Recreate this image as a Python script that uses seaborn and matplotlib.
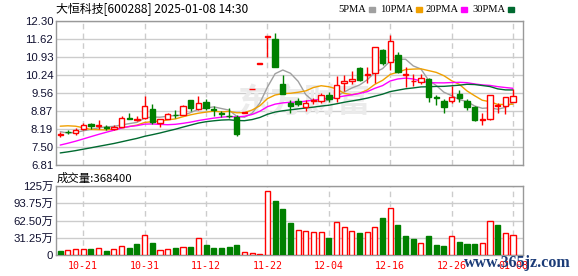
import numpy as np
import pandas as pd
import matplotlib
matplotlib.use("Agg")
import matplotlib.pyplot as plt
import seaborn as sns

# ---------------- data ----------------
title = "大恒科技[600288] 2025-01-08 14:30"
last_volume = 368400

# closes before the visible window (estimated from where the MA lines start)
prior_closes = [6.80, 6.75, 6.70, 6.70, 6.65, 6.60, 6.60, 6.65, 6.60, 6.65,
                6.65, 6.60, 6.60, 6.55, 6.60, 6.60, 6.70, 6.90, 7.40, 7.90,
                7.90, 8.30, 8.90, 9.00, 8.40,
                8.30, 8.05, 8.00, 8.05]

opens = [7.97, 8.07, 8.04, 8.17, 8.36, 8.30, 8.24, 8.17, 8.27, 8.60,
         8.53, 8.62, 8.93, 8.40, 8.58, 8.72, 8.72, 9.29, 8.93, 9.22,
         8.95, 8.77, 8.68, 8.64, 8.81, 9.69, 10.66, 11.68, 11.61, 9.90,
         9.18, 9.26, 9.01, 9.24, 9.26, 9.47, 9.36, 9.92, 10.03, 10.52,
         10.26, 10.31, 11.20, 10.75, 11.00, 10.26, 10.00, 9.98, 10.08, 9.42,
         9.25, 9.26, 9.52, 9.25, 9.03, 8.54, 8.55, 9.05, 9.06, 9.22]
highs = [8.08, 8.14, 8.23, 8.40, 8.42, 8.53, 8.33, 8.33, 8.66, 8.80,
         8.68, 9.45, 9.14, 8.58, 8.80, 8.92, 9.10, 9.30, 9.44, 9.31,
         9.06, 8.85, 8.97, 8.70, 8.81, 9.69, 10.66, 11.73, 11.85, 10.24,
         9.30, 9.38, 9.29, 9.38, 9.54, 9.60, 10.20, 10.24, 10.41, 10.55,
         10.55, 11.32, 11.25, 11.77, 11.12, 10.56, 10.27, 10.28, 10.12, 9.46,
         9.31, 9.82, 9.67, 9.31, 9.06, 8.80, 9.49, 9.16, 9.42, 9.69]
lows = [7.87, 7.99, 7.95, 8.14, 8.17, 8.17, 8.14, 8.14, 8.24, 8.55,
        8.47, 8.58, 8.38, 8.25, 8.57, 8.60, 8.70, 8.88, 8.90, 8.91,
        8.67, 8.63, 8.62, 7.93, 8.81, 9.69, 10.66, 10.94, 10.55, 9.50,
        8.78, 9.06, 8.88, 9.14, 9.16, 9.22, 9.22, 9.62, 9.90, 10.02,
        9.93, 9.95, 10.64, 10.45, 10.33, 9.80, 9.82, 9.90, 9.20, 9.10,
        8.80, 9.19, 9.22, 8.90, 8.48, 8.34, 8.53, 8.78, 8.75, 9.20]
closes = [8.00, 8.05, 8.14, 8.33, 8.31, 8.32, 8.22, 8.24, 8.59, 8.57,
          8.55, 9.05, 8.44, 8.55, 8.76, 8.70, 9.06, 8.97, 9.19, 8.99,
          8.92, 8.75, 8.66, 8.01, 8.81, 9.69, 10.66, 11.73, 10.56, 9.52,
          9.06, 9.13, 9.19, 9.30, 9.48, 9.31, 9.86, 10.01, 10.07, 10.05,
          10.29, 11.30, 10.71, 11.54, 10.37, 10.29, 10.03, 10.12, 9.39, 9.37,
          9.01, 9.39, 9.35, 9.03, 8.52, 8.57, 9.48, 9.08, 9.39, 9.44]
# volume in 万 (10k shares)
volumes = [7.2, 8.5, 10.3, 10.3, 10.9, 12.0, 7.2, 10.3, 15.7, 12.7,
           20.0, 35.6, 21.7, 9.0, 10.3, 12.7, 13.9, 14.5, 30.2, 18.1,
           12.7, 12.7, 14.5, 18.1, 5.4, 3.6, 1.8, 115.3, 97.8, 83.3,
           58.6, 44.7, 42.9, 41.7, 41.7, 30.8, 59.2, 50.1, 42.9, 39.9,
           41.7, 50.1, 67.0, 84.5, 54.3, 34.4, 29.0, 21.7, 34.4, 18.1,
           16.3, 33.8, 23.6, 20.0, 20.0, 21.7, 61.0, 54.3, 39.9, 36.84]

dates = [d.strftime("%m-%d") for d in pd.bdate_range("2024-10-16", "2025-01-08")
         if d.strftime("%Y-%m-%d") != "2025-01-01"]
tick_labels = ["10-21", "10-31", "11-12", "11-22", "12-04", "12-16", "12-26", "01-08"]
price_ticks = [6.81, 7.50, 8.19, 8.87, 9.56, 10.24, 10.93, 11.62, 12.30]
vol_ticks = [0, 31.25, 62.50, 93.75, 125]
vol_tick_labels = ["0", "31.25万", "62.50万", "93.75万", "125万"]
ma_periods = [5, 10, 20, 30]
ma_names = ["5PMA", "10PMA", "20PMA", "30PMA"]
ma_colors = ["#a0a0a0", "#f0a000", "#ff00ff", "#006a30"]

UP = "#ff0000"
DOWN = "#008000"

# ---------------- figure ----------------
sns.set_theme(style="white")
plt.rcParams["font.family"] = ["Noto Sans CJK SC", "DejaVu Sans"]

W, H = 578, 276
fig = plt.figure(figsize=(W / 100, H / 100), dpi=100)
fig.patch.set_facecolor("white")


def rect(l, t, r, b):
    return [l / W, 1 - b / H, (r - l) / W, (b - t) / H]


axp = fig.add_axes(rect(56, 21, 523, 165))
axv = fig.add_axes(rect(56, 186, 523, 255))

n = len(closes)
x = np.arange(n)
o = np.array(opens)
c = np.array(closes)
hi = np.array(highs)
lo = np.array(lows)
up = c >= o
prev_close = np.array([prior_closes[-1]] + closes[:-1])
vol_up = c >= prev_close

tick_pos = [dates.index(t) for t in tick_labels]
xlim = (-0.55, n + 0.3)

for ax in (axp, axv):
    ax.set_facecolor("white")
    for s in ax.spines.values():
        s.set_color("#999999")
        s.set_linewidth(1)
    ax.set_xlim(*xlim)
    for tp in tick_pos:
        ax.axvline(tp, color="#cccccc", lw=1, ls=(0, (4, 3)), zorder=0)
    ax.tick_params(length=0, pad=2)

# price grid
for t in price_ticks:
    axp.axhline(t, color="#cccccc", lw=1, zorder=0)
axp.set_ylim(price_ticks[0], price_ticks[-1])
axp.set_yticks(price_ticks)
axp.set_yticklabels([f"{t:.2f}" for t in price_ticks], fontsize=8.2,
                    color="#101030", family=["Liberation Sans"])
axp.set_xticks([])

# watermark logo text
axp.text(0.53, 0.43, "东方财富", transform=axp.transAxes, fontsize=24,
         color="#ebebeb", ha="center", va="center", style="italic",
         fontweight="bold", zorder=0)

# moving averages
all_close = pd.Series(prior_closes + closes)
k = len(prior_closes)
for p, col in zip(ma_periods, ma_colors):
    ma = all_close.rolling(p).mean().iloc[k:].to_numpy()
    sns.lineplot(x=x, y=ma, ax=axp, color=col, lw=1, legend=False, zorder=2)

# candles
axp.vlines(x, lo, hi, colors=np.where(up, UP, DOWN), lw=1, zorder=3)
body_h = np.maximum(np.abs(c - o), 0.025)
body_b = np.minimum(o, c)
axp.bar(x, body_h, bottom=body_b, width=0.7,
        color=np.where(up, "white", DOWN), edgecolor=np.where(up, UP, DOWN),
        lw=1, zorder=4)

# volume
for t in vol_ticks:
    axv.axhline(t, color="#cccccc", lw=1, zorder=0)
axv.bar(x, volumes, width=0.66, color=np.where(vol_up, "white", DOWN),
        edgecolor=np.where(vol_up, UP, DOWN), lw=1, zorder=3)
axv.set_ylim(0, 125)
axv.set_yticks(vol_ticks)
axv.set_yticklabels(vol_tick_labels, fontsize=8.2, color="#101030",
                    family=["Liberation Sans", "Noto Sans CJK SC"])
axv.set_xticks(tick_pos)
axv.set_xticklabels(tick_labels, fontsize=7.2, color="#ff0000",
                    family=["DejaVu Sans Mono"])
axv.tick_params(axis="x", pad=4)

# texts
fig.text(56 / W, 1 - 9 / H, title, fontsize=8.6, color="#000000",
         ha="left", va="center")
fig.text(57 / W, 1 - 178 / H, f"成交量:{last_volume}", fontsize=8.2,
         color="#000000", ha="left", va="center")

# legend
leg_x = [338, 380, 425, 472]
for lx, name, col in zip(leg_x, ma_names, ma_colors):
    t = fig.text(lx / W, 1 - 9 / H, name, fontsize=7.6, color="#000000",
                 ha="left", va="center", family=["Liberation Serif"])
    fig.canvas.draw()
    bb = t.get_window_extent()
    fig.patches.append(plt.Rectangle(((bb.x1 + 3) / W, (H - 9 - 2.5) / H),
                                     6 / W, 5 / H, transform=fig.transFigure,
                                     color=col, figure=fig))

fig.text(571 / W, 1 - 263 / H, "www.365jz.com", fontsize=11.5,
         color="#1c3c78", ha="right", va="center", family=["Liberation Serif"],
         fontweight="bold", zorder=10)

fig.savefig("out.png", dpi=100, facecolor="white")
